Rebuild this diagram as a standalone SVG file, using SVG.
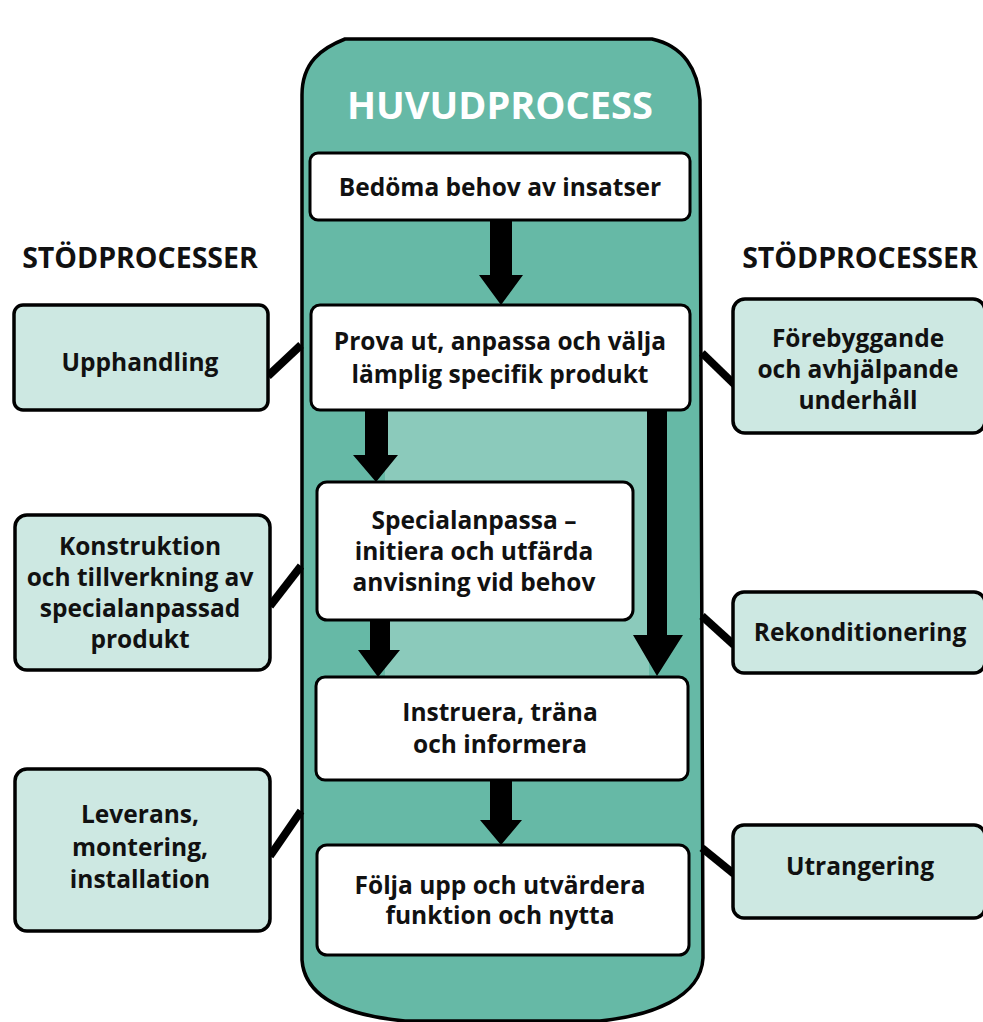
<svg xmlns="http://www.w3.org/2000/svg" width="983" height="1022" viewBox="0 0 983 1022">
<style>
.t{font-family:"Open Sans","Noto Sans","Liberation Sans",sans-serif;font-weight:700;text-anchor:middle;fill:#111;font-size:24.5px}
.main{fill:#fff;stroke:#000;stroke-width:3}
.side{fill:#cde8e2;stroke:#000;stroke-width:3.5}
.conn{stroke:#000;stroke-width:8;fill:none}
.arr{fill:#000}
</style>
<rect width="983" height="1022" fill="#fff"/>
<g id="capsule">
<path d="M302 95 C302 62 322 48 345 39 L652 39 C684 46 698 70 700 100 L703 958 C701 998 650 1016 600 1021 L405 1021 C352 1016 305 1000 302 960 Z" fill="#66b9a6" stroke="#000" stroke-width="3.5"/>
<rect x="385" y="408" width="264" height="272" fill="#8bcabb"/>
<text class="t" x="500" y="119" style="fill:#fff;font-size:38px">HUVUDPROCESS</text>
</g>
<g id="labels">
<text class="t" x="140" y="268" style="font-size:28.5px">STÖDPROCESSER</text>
<text class="t" x="860" y="268" style="font-size:28.5px">STÖDPROCESSER</text>
</g>
<g id="connectors">
<path class="arr" d="M490 220 H512 V275 H523 L501 305 L479 275 H490 Z"/>
<path class="arr" d="M365 410 H388 V455 H398 L376 482 L353 455 H365 Z"/>
<path class="arr" d="M647 410 H667 V635 H683 L657 676 L633 635 H647 Z"/>
<path class="arr" d="M370 620 H390 V650 H400 L378 677 L358 650 H370 Z"/>
<path class="arr" d="M490 780 H512 V820 H522 L501 845 L480 820 H490 Z"/>
<path class="conn" d="M268 376 L301 345"/>
<path class="conn" d="M270 606 L301 566"/>
<path class="conn" d="M270 856 L301 811"/>
<path class="conn" d="M702 353 L735 385"/>
<path class="conn" d="M702 616 L734 645"/>
<path class="conn" d="M702 848 L734 874"/>
</g>
<g id="n1">
<rect class="main" x="310" y="153" width="380" height="67" rx="8"/>
<text class="t" x="500" y="196">Bedöma behov av insatser</text>
</g>
<g id="n2">
<rect class="main" x="311" y="305" width="379" height="105" rx="9"/>
<text class="t" x="500" y="350">Prova ut, anpassa och välja</text>
<text class="t" x="500" y="383">lämplig specifik produkt</text>
</g>
<g id="n3">
<rect class="main" x="317" y="482" width="316" height="138" rx="10"/>
<text class="t" x="474" y="529">Specialanpassa –</text>
<text class="t" x="474" y="560">initiera och utfärda</text>
<text class="t" x="474" y="591">anvisning vid behov</text>
</g>
<g id="n4">
<rect class="main" x="316" y="677" width="372" height="103" rx="9"/>
<text class="t" x="500" y="721">Instruera, träna</text>
<text class="t" x="500" y="753">och informera</text>
</g>
<g id="n5">
<rect class="main" x="317" y="845" width="372" height="110" rx="10"/>
<text class="t" x="500" y="894">Följa upp och utvärdera</text>
<text class="t" x="500" y="924">funktion och nytta</text>
</g>
<g id="s1">
<rect class="side" x="14" y="305" width="254" height="105" rx="9"/>
<text class="t" x="140" y="371">Upphandling</text>
</g>
<g id="s2">
<rect class="side" x="15" y="515" width="255" height="155" rx="12"/>
<text class="t" x="140" y="555">Konstruktion</text>
<text class="t" x="140" y="586">och tillverkning av</text>
<text class="t" x="140" y="617">specialanpassad</text>
<text class="t" x="140" y="648">produkt</text>
</g>
<g id="s3">
<rect class="side" x="15" y="769" width="255" height="162" rx="12"/>
<text class="t" x="140" y="823">Leverans,</text>
<text class="t" x="140" y="856">montering,</text>
<text class="t" x="140" y="888">installation</text>
</g>
<g id="s4">
<rect class="side" x="733" y="299" width="252" height="134" rx="12"/>
<text class="t" x="858" y="347">Förebyggande</text>
<text class="t" x="858" y="378">och avhjälpande</text>
<text class="t" x="858" y="409">underhåll</text>
</g>
<g id="s5">
<rect class="side" x="733" y="592" width="252" height="81" rx="11"/>
<text class="t" x="860" y="641">Rekonditionering</text>
</g>
<g id="s6">
<rect class="side" x="733" y="825" width="252" height="93" rx="11"/>
<text class="t" x="860" y="875">Utrangering</text>
</g>
</svg>
